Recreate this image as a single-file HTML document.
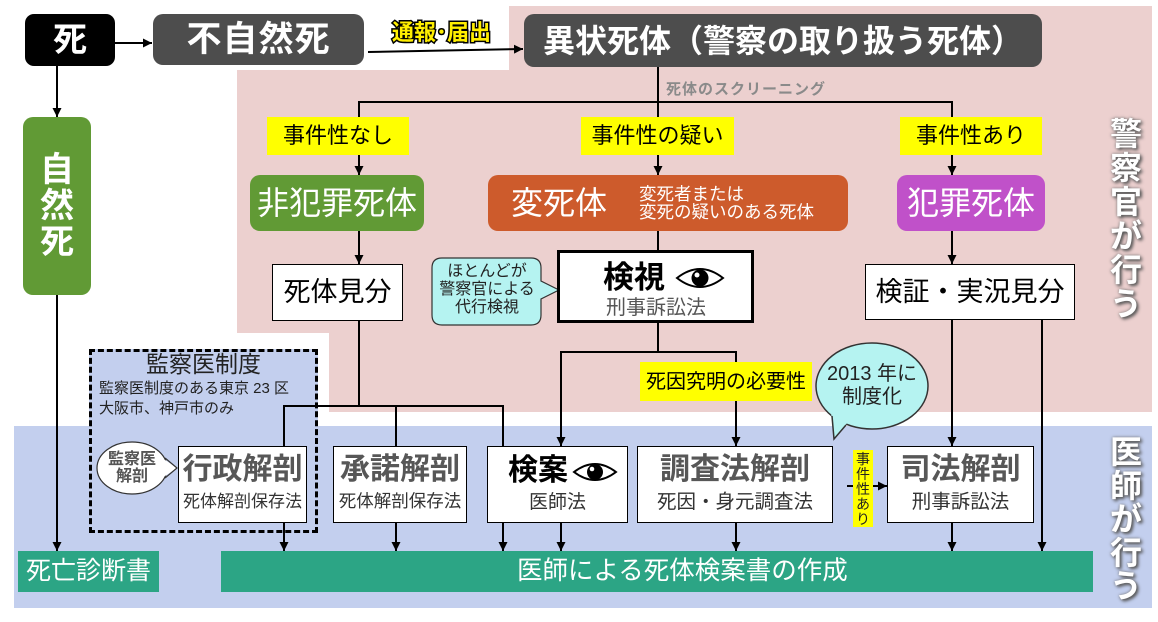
<!DOCTYPE html>
<html><head><meta charset="utf-8">
<style>
*{margin:0;padding:0;box-sizing:border-box}
body{width:1158px;height:622px;position:relative;background:#fff;overflow:hidden;font-family:"Liberation Sans","Noto Sans CJK JP",sans-serif;}
.a{position:absolute}
.b{position:absolute;display:flex;align-items:center;justify-content:center;line-height:1;white-space:nowrap}
.w{background:#fff;border:1.5px solid #000}
.y{background:#ffff00;color:#000;font-size:22px}
.t{position:absolute;left:0;width:100%;text-align:center;line-height:1;white-space:nowrap}
.mn{top:8px;font-size:30px;font-weight:bold;color:#575757}
.sb{top:46px;font-size:18px;color:#333}
.vt{position:absolute;color:#fff;font-weight:bold;font-size:32px;line-height:34px;text-align:center;width:40px;text-shadow:2px 2px 3px #555,0 0 3px #777}
</style></head><body>

<svg class="a" style="left:0;top:0" width="1158" height="622">
 <polygon points="509,6 1152,6 1152,412 329,412 329,333 237,333 237,70 509,70" fill="#ecd0cf"/>
 <rect x="14" y="426" width="1138" height="182" fill="#c3cfee"/>
</svg>

<!-- dashed box -->
<div class="a" style="left:89px;top:349px;width:229px;height:184px;border:3px dashed #000;background:#c3cfee"></div>
<div class="a" style="left:89px;top:352px;width:229px;text-align:center;font-size:23px;line-height:24px;color:#222">監察医制度</div>
<div class="a" style="left:99px;top:379px;font-size:15px;line-height:20px;color:#222;white-space:nowrap">監察医制度のある東京 23 区<br>大阪市、神戸市のみ</div>

<svg class="a" style="left:0;top:0" width="1158" height="622">
<defs><marker id="m" viewBox="0 0 10 10" refX="10" refY="5" markerWidth="9" markerHeight="9" markerUnits="userSpaceOnUse" orient="auto"><path d="M0,0 L10,5 L0,10 z" fill="#000"/></marker></defs>
<g stroke="#000" stroke-width="2" fill="none">
<line x1="115" y1="43" x2="152" y2="43" marker-end="url(#m)"/>
<line x1="368" y1="52" x2="523" y2="49" marker-end="url(#m)"/>
<line x1="57" y1="66" x2="57" y2="117" marker-end="url(#m)"/>
<line x1="57" y1="295" x2="57" y2="551" marker-end="url(#m)"/>
<line x1="658" y1="66" x2="658" y2="175" marker-end="url(#m)"/>
<line x1="358" y1="102" x2="953" y2="102"/>
<line x1="359" y1="102" x2="359" y2="175" marker-end="url(#m)"/>
<line x1="952" y1="102" x2="952" y2="175" marker-end="url(#m)"/>
<line x1="359" y1="230" x2="359" y2="264" marker-end="url(#m)"/>
<line x1="658" y1="230" x2="658" y2="250"/>
<line x1="952" y1="230" x2="952" y2="264" marker-end="url(#m)"/>
<line x1="658" y1="323" x2="658" y2="352"/>
<line x1="560" y1="352" x2="737" y2="352"/>
<line x1="561" y1="352" x2="561" y2="446" marker-end="url(#m)"/>
<line x1="736" y1="352" x2="736" y2="446" marker-end="url(#m)"/>
<line x1="359" y1="320" x2="359" y2="406"/>
<line x1="283" y1="406" x2="504" y2="406"/>
<line x1="284" y1="406" x2="284" y2="446"/>
<line x1="396" y1="406" x2="396" y2="446"/>
<line x1="503" y1="406" x2="503" y2="446"/>
<line x1="952" y1="320" x2="952" y2="446" marker-end="url(#m)"/>
<line x1="1042" y1="320" x2="1042" y2="551" marker-end="url(#m)"/>
<line x1="847" y1="486" x2="887" y2="486" marker-end="url(#m)"/>
<line x1="284" y1="523" x2="284" y2="551" marker-end="url(#m)"/>
<line x1="396" y1="523" x2="396" y2="551" marker-end="url(#m)"/>
<line x1="503" y1="523" x2="503" y2="551" marker-end="url(#m)"/>
<line x1="561" y1="523" x2="561" y2="551" marker-end="url(#m)"/>
<line x1="736" y1="523" x2="736" y2="551" marker-end="url(#m)"/>
<line x1="952" y1="523" x2="952" y2="551" marker-end="url(#m)"/>
</g>
<!-- bubbles -->
<path d="M442,258 H531 Q541,258 541,268 V281 L559,290 L541,299 V315 Q541,325 531,325 H442 Q432,325 432,315 V268 Q432,258 442,258 Z" fill="#b5f3f1" stroke="#333" stroke-width="1.2"/>
<ellipse cx="872" cy="386" rx="56" ry="43" fill="#b5f3f1" stroke="#333" stroke-width="1.5"/>
<polygon points="831,412 834,439 848,422" fill="#b5f3f1"/>
<polyline points="832,416 834,439 846,425" fill="none" stroke="#333" stroke-width="1.5"/>
<ellipse cx="132" cy="468" rx="35" ry="26" fill="#fff" stroke="#333" stroke-width="1.2"/>
<polygon points="162,458 177,468 162,478" fill="#fff"/>
<polyline points="165,458 177,468 165,478" fill="none" stroke="#333" stroke-width="1.2"/>
<text x="392" y="40" font-size="22" font-weight="bold" fill="#ffee00" stroke="#000" stroke-width="3" paint-order="stroke" font-family="Liberation Sans, Noto Sans CJK JP, sans-serif">通報･届出</text>
</svg>

<!-- bubble texts -->
<div class="a" style="left:432px;top:263px;width:110px;text-align:center;font-size:16px;line-height:18px;color:#222">ほとんどが<br>警察官による<br>代行検視</div>
<div class="a" style="left:816px;top:363px;width:112px;text-align:center;font-size:20px;line-height:23px;color:#222">2013 年に<br>制度化</div>
<div class="a" style="left:97px;top:451px;width:70px;text-align:center;font-size:16px;line-height:17px;color:#555;font-weight:bold">監察医<br>解剖</div>

<!-- top row -->
<div class="b" style="left:25px;top:14px;width:90px;height:52px;background:#000;border-radius:9px;color:#fff;font-weight:bold;font-size:34px">死</div>
<div class="b" style="left:153px;top:14px;width:211px;height:51px;background:#4d4d4d;border-radius:10px;color:#fff;font-weight:bold;font-size:35px;letter-spacing:1px">不自然死</div>
<div class="b" style="left:524px;top:14px;width:518px;height:53px;background:#4d4d4d;border-radius:10px;color:#fff;font-weight:bold;font-size:32px">異状死体（警察の取り扱う死体）</div>

<div class="b" style="left:23px;top:117px;width:68px;height:178px;background:#619a35;border-radius:10px;color:#fff;font-weight:bold;font-size:34px;line-height:36px;text-align:center">自<br>然<br>死</div>

<div class="a" style="left:666px;top:82px;font-size:15px;line-height:16px;font-weight:bold;color:#8a8a8a;letter-spacing:1px;white-space:nowrap">死体のスクリーニング</div>

<div class="b y" style="left:267px;top:117px;width:142px;height:38px">事件性なし</div>
<div class="b y" style="left:581px;top:117px;width:153px;height:38px">事件性の疑い</div>
<div class="b y" style="left:900px;top:117px;width:142px;height:38px">事件性あり</div>

<div class="b" style="left:250px;top:175px;width:174px;height:56px;background:#619a35;border-radius:10px;color:#fff;font-size:32px">非犯罪死体</div>
<div class="a" style="left:488px;top:175px;width:360px;height:56px;background:#cd5b2c;border-radius:10px;color:#fff">
  <div class="a" style="left:23px;top:11px;font-size:32px;line-height:34px;white-space:nowrap">変死体</div>
  <div class="a" style="left:151px;top:10px;font-size:17.5px;line-height:18px;white-space:nowrap">変死者または<br>変死の疑いのある死体</div>
</div>
<div class="b" style="left:897px;top:175px;width:148px;height:56px;background:#c051c9;border-radius:10px;color:#fff;font-size:32px">犯罪死体</div>

<div class="b w" style="left:272px;top:264px;width:131px;height:57px;font-size:27px">死体見分</div>
<div class="a" style="left:557px;top:250px;width:197px;height:73px;background:#fff;border:3px solid #000">
  <div class="a" style="left:43px;top:8px;font-size:31px;line-height:34px;font-weight:bold;white-space:nowrap">検視</div>
  <svg class="a" style="left:115px;top:13px" width="52" height="24"><path d="M2,12 Q25,-6 48,12 Q25,30 2,12 Z" fill="#fff" stroke="#000" stroke-width="2"/><circle cx="25" cy="12" r="8.5" fill="#000"/><circle cx="22" cy="9" r="2.5" fill="#fff"/></svg>
  <div class="a" style="left:46px;top:44px;font-size:20px;line-height:22px;color:#555;white-space:nowrap">刑事訴訟法</div>
</div>
<div class="b w" style="left:865px;top:264px;width:210px;height:56px;font-size:27px">検証・実況見分</div>

<div class="b y" style="left:640px;top:362px;width:172px;height:39px;font-size:20px">死因究明の必要性</div>

<!-- bottom boxes -->
<div class="a w" style="left:178px;top:446px;width:129px;height:77px"><div class="t mn">行政解剖</div><div class="t sb" style="font-size:17px">死体解剖保存法</div></div>
<div class="a w" style="left:333px;top:446px;width:134px;height:77px"><div class="t mn">承諾解剖</div><div class="t sb" style="font-size:17.5px">死体解剖保存法</div></div>
<div class="a w" style="left:487px;top:446px;width:141px;height:77px">
  <div class="a" style="left:20px;top:8px;font-size:30px;line-height:32px;font-weight:bold;white-space:nowrap">検案</div>
  <svg class="a" style="left:84px;top:14px" width="46" height="22"><path d="M2,11 Q23,-5 44,11 Q23,27 2,11 Z" fill="#fff" stroke="#000" stroke-width="2"/><circle cx="23" cy="11" r="8" fill="#000"/><circle cx="20" cy="8" r="2.3" fill="#fff"/></svg>
  <div class="t sb" style="font-size:19px">医師法</div>
</div>
<div class="a w" style="left:637px;top:446px;width:196px;height:77px"><div class="t mn">調査法解剖</div><div class="t sb" style="font-size:19.5px">死因・身元調査法</div></div>
<div class="a" style="left:853px;top:450px;width:20px;height:77px;background:#ffff00;font-size:14px;line-height:15px;text-align:center;padding-top:2px;color:#222">事<br>件<br>性<br>あ<br>り</div>
<div class="a w" style="left:887px;top:446px;width:147px;height:77px"><div class="t mn">司法解剖</div><div class="t sb" style="font-size:19.5px">刑事訴訟法</div></div>

<div class="a" style="left:18px;top:551px;width:141px;height:41px;background:#2ca585;color:#fff;font-size:25px;line-height:41px;padding-left:8px;white-space:nowrap">死亡診断書</div>
<div class="a" style="left:221px;top:551px;width:872px;height:41px;background:#2ca585;color:#fff;font-size:25.5px;line-height:41px;padding-left:296px;white-space:nowrap">医師による死体検案書の作成</div>

<div class="vt" style="left:1106px;top:117px">警<br>察<br>官<br>が<br>行<br>う</div>
<div class="vt" style="left:1106px;top:436px;line-height:33.5px">医<br>師<br>が<br>行<br>う</div>

</body></html>
